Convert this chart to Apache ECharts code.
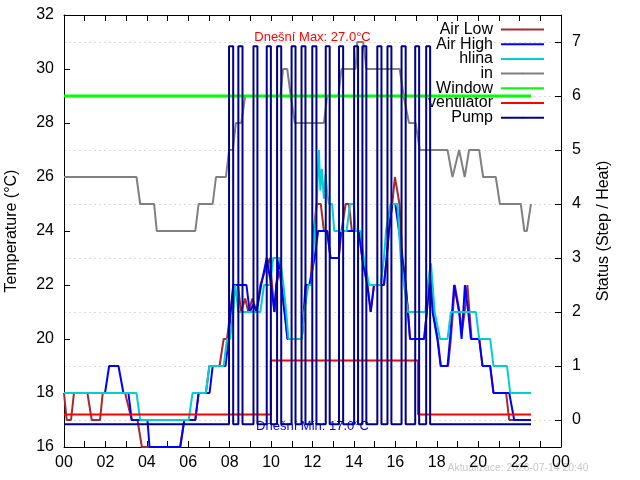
<!DOCTYPE html>
<html><head><meta charset="utf-8">
<script src="https://cdn.jsdelivr.net/npm/echarts@6/dist/echarts.min.js"></script>
<style>html,body{margin:0;padding:0;background:#fff}#c{width:640px;height:480px}</style>
</head><body><div id="c"></div>
<script>
// ---- data (hours of day) ----
const airLowTimes  = [0,0.13,0.34,0.48,1.13,1.34,1.74,1.87,2.95,3.27,3.55,3.76,5.61,5.81,6.34,6.5,6.85,7.02,7.51,7.71,7.87,8.03,8.2,8.4,8.55,8.75,8.9,9.1,9.3,9.48,9.7,9.94,10.05,10.16,10.25,10.4,10.5,10.65,10.8,11.48,11.6,11.75,11.9,12.05,12.2,12.4,12.55,12.71,12.87,13.27,13.4,13.6,13.76,13.9,14.24,14.4,14.65,14.81,14.89,14.97,15.45,15.58,15.69,15.85,15.98,16.05,16.2,16.34,16.5,16.61,16.71,17.39,17.52,17.63,17.7,17.82,18.05,18.2,18.55,18.68,18.78,18.87,18.95,19.1,19.22,19.35,19.48,19.56,19.68,20.05,20.21,20.58,20.74,21.35,21.5,22.55];
const airLowValues = [18,17,17,18,18,17,17,18,18,17,17,16,16,17,17,18,18,19,19,20,20,21,22,22,21,21.5,21,21.5,21,22,22.5,23,22,21,22,22.5,22,21,20,20,21,22,22,24,25,25,24,24,23,23,24,25,25,24,24,23,22,21,21,22,22,23,24,25,26,26,25,23,22,21,20,20,21,22,22.6,21,20,19,19,20,21,22,22,21,20.3,21,22,22,20,20,19,19,18,18,17,17];

const airHighTimes  = [0,1.98,2.18,2.63,2.87,3.11,3.27,4.03,4.13,5.61,5.81,6.34,6.5,7.03,7.18,7.8,7.95,8.05,8.17,8.81,8.97,9.15,9.3,9.52,9.79,9.88,10.0,10.16,10.25,10.42,10.5,10.65,10.79,11.48,11.58,11.66,11.85,12.1,12.27,12.71,12.87,13.27,13.35,14.24,14.4,14.65,14.81,14.89,14.97,15.45,15.58,15.69,15.85,16.0,16.18,16.34,16.5,16.61,16.71,17.39,17.52,17.63,17.68,17.8,18.03,18.19,18.52,18.64,18.74,18.84,18.92,19.08,19.2,19.36,19.42,19.52,19.65,20.05,20.21,20.58,20.74,21.5,21.74,22.55];
const airHighValues = [18,18,19,19,18,18,17,17,16,16,17,17,18,18,19,19,20,21,22,22,21,21.3,21,22,23,23,22,21,22,23,22,21,20,20,21,22,22,23,24,24,23,23,24,24,23,22,21,21,22,22,23,24,25,25,24,23,22,21,20,20,21,22,22.6,21,20,19,19,20,21,22,22,21,20,22,22,21,20,20,19,19,18,18,17,17];

const hlinaTimes  = [0,3.5,3.68,6.02,6.21,6.85,7.02,7.71,7.87,8.02,8.17,8.27,8.42,9.48,9.66,9.95,10.1,10.42,10.6,10.73,10.84,11.48,11.6,11.8,11.95,12.1,12.2,12.31,12.38,12.45,12.55,12.63,12.72,12.8,12.95,13.05,13.65,13.81,14.0,14.08,14.32,14.48,14.73,15.29,15.45,15.55,15.77,16.1,16.18,16.26,16.42,16.61,17.45,17.55,17.72,17.9,18.16,18.52,18.68,19.89,20.05,20.58,20.74,21.39,21.55,22.55];
const hlinaValues = [18,18,17,17,18,18,19,19,20,20,21,22,21,21,22,22,23,23,22,21,20,20,21,22,22,24,25,27,25.5,26.3,25.2,26.1,25.3,25,25,24,24,25,25,24,24,23,22,22,23,24,25,25,24,23,22,21,21,22,22.8,21,20,20,21,21,20,20,19,19,18,18];

const inTimes  = [0,3.5,3.68,4.35,4.48,6.34,6.5,7.18,7.34,7.82,7.97,8.15,8.3,8.56,8.75,10.45,10.58,10.78,10.95,11.15,12.55,12.71,13.25,13.4,14.08,14.16,14.45,14.6,16.21,16.4,16.66,16.98,17.18,18.52,18.76,18.84,19.08,19.35,19.56,20.05,20.24,20.85,21.05,22.06,22.23,22.35,22.55];
const inValues = [26,26,25,25,24,24,25,25,26,26,27,27,28,28,29,29,30,30,29,28,28,29,29,30,30,31,31,30,30,29,28,28,27,27,26,26,27,26,27,27,26,26,25,25,24,24,25];

const windowTimes  = [0,22.55];
const windowValues = [6,6];

const ventTimes  = [0,9.99,17.1,22.55];
const ventValues = [0.1,1.1,0.1,0.1];

const pumpOn  = [7.97,8.42,9.15,9.79,10.29,10.99,11.47,11.99,12.64,13.28,14.01,14.41,15.13,15.62,16.3,16.96,17.49];
const pumpOff = [8.17,8.62,9.34,9.99,10.49,11.18,11.66,12.19,12.83,13.48,14.2,14.6,15.33,15.81,16.5,17.15,17.68];
const pumpLow = -0.08, pumpHigh = 6.92, dataEnd = 22.55;

const xTicks = [0,2,4,6,8,10,12,14,16,18,20,22,24];
const statusTicks = [0,1,2,3,4,5,6,7];

// ---- build ----
const F = '"Liberation Sans", Arial, sans-serif';
const pairs = (ts, vs) => ts.map((t, i) => [t, vs[i]]);
function stepPairs(ts, vs) {
  const out = [];
  for (let i = 0; i < ts.length; i++) {
    if (i > 0 && vs[i] !== vs[i-1]) out.push([ts[i], vs[i-1]]);
    out.push([ts[i], vs[i]]);
  }
  return out;
}
const pumpData = [[0, pumpLow]];
pumpOn.forEach((t, i) => {
  pumpData.push([t, pumpLow], [t, pumpHigh], [pumpOff[i], pumpHigh], [pumpOff[i], pumpLow]);
});
pumpData.push([dataEnd, pumpLow]);

function lineSeries(name, color, data, yi, w) {
  return {name, type:'line', data, yAxisIndex: yi, xAxisIndex: 0, symbol:'none', showSymbol:false,
    color, lineStyle:{color, width:w}, itemStyle:{color}, animation:false, silent:true, clip:true};
}

const chart = echarts.init(document.getElementById('c'), null, {renderer:'canvas'});
const axisLineBlack = {show:true, onZero:false, lineStyle:{color:'#000', width:1}};
chart.setOption({
  animation:false,
  backgroundColor:'#fff',
  grid:{left:64, right:79, top:15, bottom:33, show:false, containLabel:false, outerBoundsMode:'none'},
  legend:{orient:'vertical', align:'right', right:95, top:21.5, padding:0, itemGap:-1.3,
    itemWidth:43, itemHeight:2, z:1, selectedMode:false,
    textStyle:{fontSize:16, color:'#000', fontFamily:F, lineHeight:15, padding:[0,3,0,0]},
    data:['Air Low','Air High','hlina','in','Window','ventilator','Pump']},
  xAxis:[{
    type:'value', min:0, max:24, interval:1, position:'bottom',
    axisLine:axisLineBlack,
    axisTick:{show:true, inside:true, length:6, lineStyle:{color:'#000'}},
    axisLabel:{show:true, margin:8, color:'#000', fontSize:16, fontFamily:F,
      showMinLabel:true, showMaxLabel:true,
      formatter: v => xTicks.indexOf(v) >= 0 ? String(v % 24).padStart(2,'0') : ''},
    splitLine:{show:false}
  },{
    type:'value', min:0, max:24, interval:1, position:'top',
    axisLine:axisLineBlack,
    axisTick:{show:true, inside:true, length:6, lineStyle:{color:'#000'}},
    axisLabel:{show:false}, splitLine:{show:false}
  }],
  yAxis:[{
    type:'value', min:16, max:32, interval:2, position:'left',
    name:'Temperature (°C)', nameLocation:'middle', nameGap:44,
    nameTextStyle:{fontSize:16, color:'#000', fontFamily:F},
    axisLine:axisLineBlack,
    axisTick:{show:true, inside:true, length:6, lineStyle:{color:'#000'}},
    axisLabel:{margin:10, color:'#000', fontSize:16, fontFamily:F},
    splitLine:{show:false}
  },{
    type:'value', min:-0.5, max:7.5, position:'right',
    name:'Status (Step / Heat)', nameLocation:'middle', nameGap:35,
    nameTextStyle:{fontSize:16, color:'#000', fontFamily:F},
    axisLine:axisLineBlack,
    axisTick:{show:true, inside:true, length:6, lineStyle:{color:'#000'}, customValues:statusTicks},
    axisLabel:{margin:11, color:'#000', fontSize:16, fontFamily:F, customValues:statusTicks},
    splitLine:{show:true, lineStyle:{color:'#dcdcdc', width:1, type:[2,3]}}
  }],
  graphic:[
    {type:'text', x:312.5, y:37, z:0, style:{text:'Dnešní Max: 27.0°C', fill:'#ff0000', font:'13px ' + F, textAlign:'center', textVerticalAlign:'middle'}},
    {type:'text', x:312.5, y:426, z:0, style:{text:'Dnešní Min: 17.0°C', fill:'#0000ff', font:'13px ' + F, textAlign:'center', textVerticalAlign:'middle'}},
    {type:'text', x:518, y:468, z:0, style:{text:'Aktualizace: 2026-07-14 20:40', fill:'#c8c8c8', font:'10.4px ' + F, textAlign:'center', textVerticalAlign:'middle'}}
  ],
  series:[
    lineSeries('Air Low', '#a52a2a', pairs(airLowTimes, airLowValues), 0, 2),
    lineSeries('Air High', '#0000ff', pairs(airHighTimes, airHighValues), 0, 2),
    lineSeries('hlina', '#00ced1', pairs(hlinaTimes, hlinaValues), 0, 2),
    lineSeries('in', '#808080', pairs(inTimes, inValues), 0, 2),
    lineSeries('Window', '#00ff00', pairs(windowTimes, windowValues), 1, 3),
    lineSeries('ventilator', '#ff0000', stepPairs(ventTimes, ventValues), 1, 2),
    lineSeries('Pump', '#00008b', pumpData, 1, 2)
  ]
});
</script>
</body></html>
